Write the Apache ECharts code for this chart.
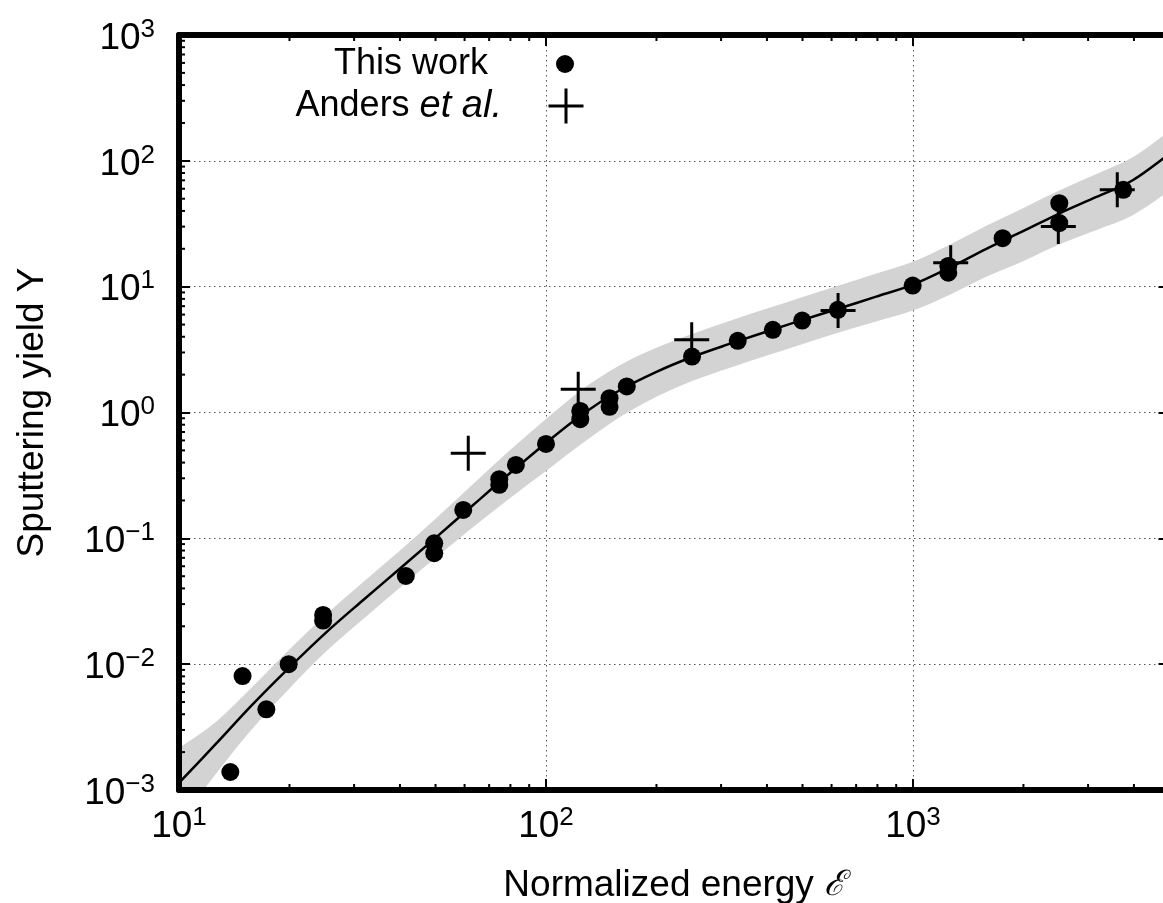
<!DOCTYPE html>
<html>
<head>
<meta charset="utf-8">
<script src="https://cdn.jsdelivr.net/npm/echarts@6/dist/echarts.min.js"></script>
<style>
  html, body { margin: 0; padding: 0; background: #ffffff; }
  #chart { width: 1163px; height: 903px; }
</style>
</head>
<body>
<div id="chart"></div>
<script>
// Measured sputtering yields (this work)
const thisWorkE = [13.8, 14.9, 17.3, 19.9, 24.7, 24.7, 41.5, 49.6, 49.6, 59.5, 74.6, 74.6, 82.8, 100,
                   124, 124, 149, 149, 166, 250, 333, 415, 499, 624, 998, 1248, 1248, 1755, 2504, 2504, 3741];
const thisWorkY = [0.00139, 0.00805, 0.00438, 0.0100, 0.0246, 0.0222, 0.0502, 0.0914, 0.0761, 0.168, 0.295, 0.266, 0.383, 0.563,
                   1.03, 0.885, 1.30, 1.11, 1.61, 2.78, 3.71, 4.54, 5.38, 6.54, 10.2, 14.6, 12.9, 24.3, 46.1, 32.0, 58.8];

// Reference data (Anders et al.)
const andersE = [61.4, 122.4, 249.5, 625, 1267, 2489, 3603];
const andersY = [0.475, 1.53, 3.78, 6.46, 15.5, 30.1, 58.8];

// Fitted yield curve and its uncertainty band
const fitE     = [10, 12.6, 15.8, 20, 25.1, 31.6, 39.8, 50.1, 63.1, 79.4, 100, 126, 158, 200, 251, 316, 398, 501,
                  631, 794, 1000, 1259, 1585, 1995, 2512, 3162, 3981, 5000];
const fitY     = [0.001138, 0.002323, 0.004721, 0.009419, 0.01774, 0.03192, 0.05675, 0.1014, 0.1824, 0.3258, 0.5728, 0.9727, 1.489, 2.104, 2.773, 3.508, 4.385, 5.445,
                  6.730, 8.337, 10.38, 14.16, 20.00, 27.61, 38.28, 51.64, 70.47, 113.8];
const bandHigh = [0.002159, 0.003475, 0.006562, 0.01309, 0.02466, 0.04437, 0.07888, 0.1436, 0.2679, 0.4962, 0.8890, 1.537, 2.353, 3.265, 4.223, 5.343, 6.678, 8.293,
                  10.25, 12.70, 15.81, 21.57, 30.46, 42.05, 58.30, 78.65, 107.3, 173.3];
const bandLow  = [0.000547, 0.001341, 0.003042, 0.006412, 0.01253, 0.02254, 0.04008, 0.07032, 0.1219, 0.2062, 0.3430, 0.5718, 0.9085, 1.332, 1.787, 2.260, 2.825, 3.508,
                  4.336, 5.277, 6.451, 8.639, 11.98, 15.94, 21.70, 28.22, 37.15, 57.83];

// Axis ranges and ticks
const xRange = [10, 5000];
const yRange = [0.001, 1000];
const xMinorTicks = [20, 30, 40, 50, 60, 70, 80, 90, 200, 300, 400, 500, 600, 700, 800, 900, 2000, 3000, 4000];
const yMinorTicks = [0.002, 0.003, 0.004, 0.005, 0.006, 0.007, 0.008, 0.009,
                     0.02, 0.03, 0.04, 0.05, 0.06, 0.07, 0.08, 0.09,
                     0.2, 0.3, 0.4, 0.5, 0.6, 0.7, 0.8, 0.9,
                     2, 3, 4, 5, 6, 7, 8, 9,
                     20, 30, 40, 50, 60, 70, 80, 90,
                     200, 300, 400, 500, 600, 700, 800, 900];

const FONT = 'Liberation Sans';
const BORDER = 6;

function powerLabel(v) {
  const lg = Math.log10(v);
  const e = Math.round(lg);
  if (Math.abs(lg - e) > 1e-6) return '';
  const exp = e < 0 ? '\u2212' + (-e) : String(e);
  return '{b|10}{s|' + exp + '}';
}

const powerRich = {
  b: { fontFamily: FONT, fontSize: 37, lineHeight: 44, color: '#000' },
  s: { fontFamily: FONT, fontSize: 26, lineHeight: 20, verticalAlign: 'top', color: '#000' }
};

// Catmull-Rom spline through pixel points, as SVG path data
function splinePath(pts, start) {
  let d = start + pts[0][0] + ',' + pts[0][1];
  for (let i = 0; i < pts.length - 1; i++) {
    const p0 = pts[i - 1] || pts[i], p1 = pts[i], p2 = pts[i + 1], p3 = pts[i + 2] || p2;
    const c1 = [p1[0] + (p2[0] - p0[0]) / 6, p1[1] + (p2[1] - p0[1]) / 6];
    const c2 = [p2[0] - (p3[0] - p1[0]) / 6, p2[1] - (p3[1] - p1[1]) / 6];
    d += 'C' + c1[0] + ',' + c1[1] + ' ' + c2[0] + ',' + c2[1] + ' ' + p2[0] + ',' + p2[1];
  }
  return d;
}

const plusPath = 'path://M16,0L19,0L19,16L35,16L35,19L19,19L19,35L16,35L16,19L0,19L0,16L16,16Z';

const chart = echarts.init(document.getElementById('chart'), null, { renderer: 'canvas' });

const logAxisCommon = { type: 'log', logBase: 10 };

const option = {
  animation: false,
  backgroundColor: '#ffffff',
  textStyle: { fontFamily: FONT },
  grid: { left: 179, right: -6.5, top: 35, bottom: 113, containLabel: false, outerBoundsMode: 'none' },
  legend: [
    {
      data: [{ name: 'This work', icon: 'circle' }],
      orient: 'vertical', align: 'right', padding: 0,
      right: 589, top: 44,
      itemWidth: 144, itemHeight: 18, selectedMode: false,
      textStyle: { fontFamily: FONT, fontSize: 36, lineHeight: 40, color: '#000' }
    },
    {
      data: [{ name: 'Anders et al.', icon: plusPath }],
      orient: 'vertical', align: 'right', padding: 0,
      right: 579.5, top: 86,
      itemWidth: 118, itemHeight: 35, selectedMode: false,
      formatter: () => '{n|Anders }{i|et al.}',
      textStyle: {
        fontFamily: FONT, fontSize: 36, lineHeight: 40, color: '#000',
        rich: {
          n: { fontFamily: FONT, fontSize: 36, lineHeight: 40, color: '#000' },
          i: { fontFamily: FONT, fontSize: 38, lineHeight: 40, fontStyle: 'italic', color: '#000' }
        }
      }
    }
  ],
  xAxis: [
    Object.assign({}, logAxisCommon, {
      position: 'bottom', min: xRange[0], max: xRange[1], z: 10,
      name: '{n|Normalized energy }{e|\u2130}',
      nameLocation: 'middle', nameGap: 75,
      nameTextStyle: {
        rich: {
          n: { fontFamily: FONT, fontSize: 37, lineHeight: 42, color: '#000' },
          e: { fontFamily: 'DejaVu Serif', fontSize: 35, lineHeight: 42, fontStyle: 'italic', color: '#000' }
        }
      },
      axisLine: { show: true, onZero: false, lineStyle: { color: '#000', width: BORDER } },
      axisTick: { show: true, inside: true, length: 11, lineStyle: { color: '#000', width: 2 } },
      axisLabel: { show: true, margin: 15, formatter: powerLabel, rich: powerRich, color: '#000' },
      splitLine: { show: false }
    }),
    Object.assign({}, logAxisCommon, {
      position: 'top', min: xRange[0], max: xRange[1], z: 0,
      axisLine: { show: true, onZero: false, lineStyle: { color: '#000', width: BORDER } },
      axisTick: { show: true, inside: true, length: 11, lineStyle: { color: '#000', width: 2 } },
      axisLabel: { show: false },
      splitLine: { show: true, lineStyle: { color: '#555', width: 1, type: [1.5, 3.5] } }
    })
  ],
  yAxis: [
    Object.assign({}, logAxisCommon, {
      position: 'left', min: yRange[0], max: yRange[1], z: 10,
      name: 'Sputtering yield Y',
      nameLocation: 'middle', nameGap: 128,
      nameTextStyle: { fontFamily: FONT, fontSize: 37, fontStyle: 'normal', color: '#000' },
      axisLine: { show: true, onZero: false, lineStyle: { color: '#000', width: BORDER } },
      axisTick: { show: true, inside: true, length: 11, lineStyle: { color: '#000', width: 2 } },
      axisLabel: { show: true, margin: 24, formatter: powerLabel, rich: powerRich, color: '#000', padding: [7, 0, 0, 0] },
      splitLine: { show: false }
    }),
    Object.assign({}, logAxisCommon, {
      position: 'right', min: yRange[0], max: yRange[1], z: 0,
      axisLine: { show: true, onZero: false, lineStyle: { color: '#000', width: BORDER } },
      axisTick: { show: true, inside: true, length: 11, lineStyle: { color: '#000', width: 2 } },
      axisLabel: { show: false },
      splitLine: { show: true, lineStyle: { color: '#555', width: 1, type: [1.5, 3.5] } }
    })
  ],
  series: [
    {
      name: 'band', type: 'custom', xAxisIndex: 0, yAxisIndex: 0, z: 1,
      data: [0], silent: true, clip: true,
      renderItem: function (params, api) {
        const upper = fitE.map((e, i) => api.coord([e, bandHigh[i]]));
        const lower = fitE.map((e, i) => api.coord([e, bandLow[i]])).reverse();
        const d = splinePath(upper, 'M') + splinePath(lower, 'L') + 'Z';
        const cs = params.coordSys;
        const inset = BORDER / 2;
        return {
          type: 'group',
          clipPath: { type: 'rect', shape: { x: cs.x + inset, y: cs.y + inset, width: cs.width - 2 * inset, height: cs.height - 2 * inset } },
          children: [{ type: 'path', shape: { pathData: d }, style: { fill: '#d3d3d3', stroke: null } }]
        };
      }
    },
    {
      name: 'fit', type: 'custom', xAxisIndex: 0, yAxisIndex: 0, z: 3,
      data: [0], silent: true, clip: true,
      renderItem: function (params, api) {
        const pts = fitE.map((e, i) => api.coord([e, fitY[i]]));
        return { type: 'path', shape: { pathData: splinePath(pts, 'M') }, style: { fill: null, stroke: '#000', lineWidth: 2.5 } };
      }
    },
    {
      name: 'This work', type: 'scatter', xAxisIndex: 0, yAxisIndex: 0, z: 4,
      data: thisWorkE.map((e, i) => [e, thisWorkY[i]]),
      symbol: 'circle', symbolSize: 18,
      itemStyle: { color: '#000', opacity: 1 }
    },
    {
      name: 'Anders et al.', type: 'scatter', xAxisIndex: 0, yAxisIndex: 0, z: 5,
      data: andersE.map((e, i) => [e, andersY[i]]),
      symbol: plusPath, symbolSize: 35,
      itemStyle: { color: '#000', opacity: 1 }
    },
    {
      name: 'xMinor', type: 'custom', xAxisIndex: 0, yAxisIndex: 0, z: 20, silent: true, clip: false,
      data: xMinorTicks.map(v => [v, yRange[0]]),
      renderItem: function (params, api) {
        const cs = params.coordSys;
        const x = api.coord([api.value(0), yRange[0]])[0];
        const st = { stroke: '#000', lineWidth: 2 };
        return {
          type: 'group', children: [
            { type: 'line', shape: { x1: x, y1: cs.y + cs.height, x2: x, y2: cs.y + cs.height - 6 }, style: st },
            { type: 'line', shape: { x1: x, y1: cs.y, x2: x, y2: cs.y + 6 }, style: st }
          ]
        };
      }
    },
    {
      name: 'yMinor', type: 'custom', xAxisIndex: 0, yAxisIndex: 0, z: 20, silent: true, clip: false,
      data: yMinorTicks.map(v => [xRange[0], v]),
      renderItem: function (params, api) {
        const cs = params.coordSys;
        const y = api.coord([xRange[0], api.value(1)])[1];
        const st = { stroke: '#000', lineWidth: 2 };
        return {
          type: 'group', children: [
            { type: 'line', shape: { x1: cs.x, y1: y, x2: cs.x + 6, y2: y }, style: st },
            { type: 'line', shape: { x1: cs.x + cs.width, y1: y, x2: cs.x + cs.width - 6, y2: y }, style: st }
          ]
        };
      }
    }
  ]
};

chart.setOption(option);
</script>
</body>
</html>
